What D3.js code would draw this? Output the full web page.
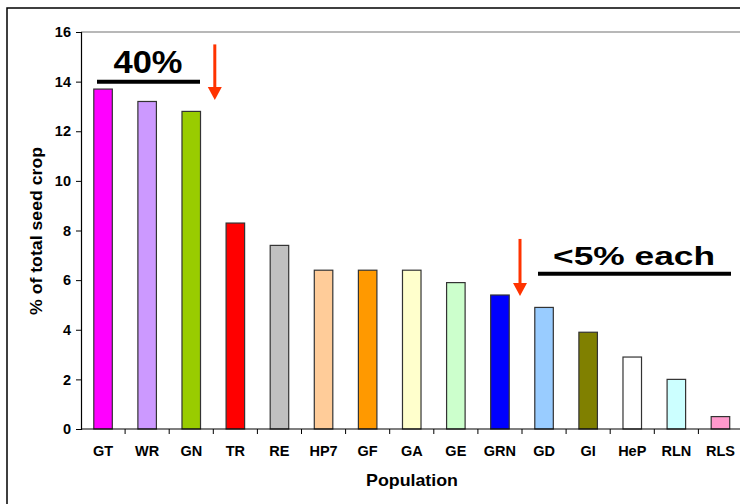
<!DOCTYPE html>
<html><head><meta charset="utf-8">
<script src="https://cdn.jsdelivr.net/npm/d3@7"></script>
<style>html,body{margin:0;padding:0;background:#fff;overflow:hidden}svg{display:block}text{font-family:"Liberation Sans",Arial,sans-serif;font-weight:bold}</style>
</head><body>
<svg id="c" width="740" height="504"></svg>
<script>
const categories = ["GT","WR","GN","TR","RE","HP7","GF","GA","GE","GRN","GD","GI","HeP","RLN","RLS"];
const values = [13.7,13.2,12.8,8.3,7.4,6.4,6.4,6.4,5.9,5.4,4.9,3.9,2.9,2.0,0.5];
const colors = ["#FF00FF","#CC99FF","#99CC00","#FF0000","#C0C0C0","#FFCC99","#FF9900","#FFFFCC","#CCFFCC","#0000FF","#99CCFF","#808000","#FFFFFF","#CCFFFF","#FF99CC"];
const yTicks = [0,2,4,6,8,10,12,14,16];

const svg = d3.select("#c");
const L = 81, R = 742.5, T = 32, B = 429;
const x = d3.scaleBand().domain(categories).range([L, R]).paddingInner(0.58).paddingOuter(0.29);
const y = d3.scaleLinear().domain([0,16]).range([B, T]);

// outer frame
svg.append("rect").attr("x",7).attr("y",8).attr("width",760).attr("height",520)
  .attr("fill","none").attr("stroke","#000").attr("stroke-width",1.5);

// top plot border
svg.append("line").attr("x1",L).attr("x2",740).attr("y1",T).attr("y2",T)
  .attr("stroke","#a0a0a0").attr("stroke-width",1.5);

// bars
svg.selectAll("rect.bar").data(categories).enter().append("rect").attr("class","bar")
  .attr("x", d => x(d)).attr("width", x.bandwidth())
  .attr("y", (d,i) => y(values[i])).attr("height", (d,i) => B - y(values[i]))
  .attr("fill", (d,i) => colors[i]).attr("stroke","#333").attr("stroke-width",1.2);

// y axis
const ya = svg.append("g").attr("transform",`translate(${L},0)`)
  .call(d3.axisLeft(y).tickValues(yTicks).tickSize(5).tickPadding(5).tickFormat(d3.format("d")));
ya.select(".domain").attr("stroke","#000").attr("stroke-width",1.2);
ya.selectAll(".tick line").attr("stroke","#000");
ya.selectAll(".tick text").attr("font-size",14.5).attr("fill","#000");

// x axis
const step = x.step();
const xa = svg.append("g").attr("transform",`translate(0,${B})`);
xa.append("line").attr("x1",L).attr("x2",740).attr("stroke","#000").attr("stroke-width",1.2);
xa.selectAll("line.tk").data(d3.range(1,categories.length)).enter().append("line").attr("class","tk")
  .attr("x1", i => L + i*step).attr("x2", i => L + i*step).attr("y1",0).attr("y2",5)
  .attr("stroke","#000");
xa.selectAll("text").data(categories).enter().append("text")
  .attr("x", d => x(d) + x.bandwidth()/2).attr("y",26.5).attr("text-anchor","middle")
  .attr("font-size",14.5).attr("fill","#000").text(d => d);

// axis titles
svg.append("text").attr("x",412).attr("y",485.5).attr("text-anchor","middle")
  .attr("font-size",17).attr("textLength",92).attr("lengthAdjust","spacingAndGlyphs").text("Population");
svg.append("text").attr("transform","translate(42,231) rotate(-90)").attr("text-anchor","middle")
  .attr("font-size",17).attr("textLength",168).attr("lengthAdjust","spacingAndGlyphs").text("% of total seed crop");

// annotations
const red = "#FF3300";
function arrow(cx, v1, v2){
  const y1 = y(v1), y2 = y(v2);
  svg.append("line").attr("x1",cx).attr("x2",cx).attr("y1",y1).attr("y2",y2-11)
    .attr("stroke",red).attr("stroke-width",3);
  svg.append("path").attr("d",`M${cx-7},${y2-13}L${cx+7},${y2-13}L${cx},${y2}Z`).attr("fill",red);
}
arrow(L + 3*step + 1.5, 15.5, 13.26);
arrow(L + 10*step - 2, 7.66, 5.36);

svg.append("line").attr("x1",97).attr("x2",200).attr("y1",y(14)).attr("y2",y(14))
  .attr("stroke","#000").attr("stroke-width",4);
svg.append("text").attr("x",148).attr("y",73).attr("text-anchor","middle")
  .attr("font-size",31).attr("textLength",69).attr("lengthAdjust","spacingAndGlyphs").text("40%");

svg.append("line").attr("x1",538).attr("x2",731).attr("y1",y(6.26)).attr("y2",y(6.26))
  .attr("stroke","#000").attr("stroke-width",4);
svg.append("text").attr("x",634).attr("y",265).attr("text-anchor","middle")
  .attr("font-size",26).attr("textLength",162).attr("lengthAdjust","spacingAndGlyphs").text("<5% each");
</script>
</body></html>
